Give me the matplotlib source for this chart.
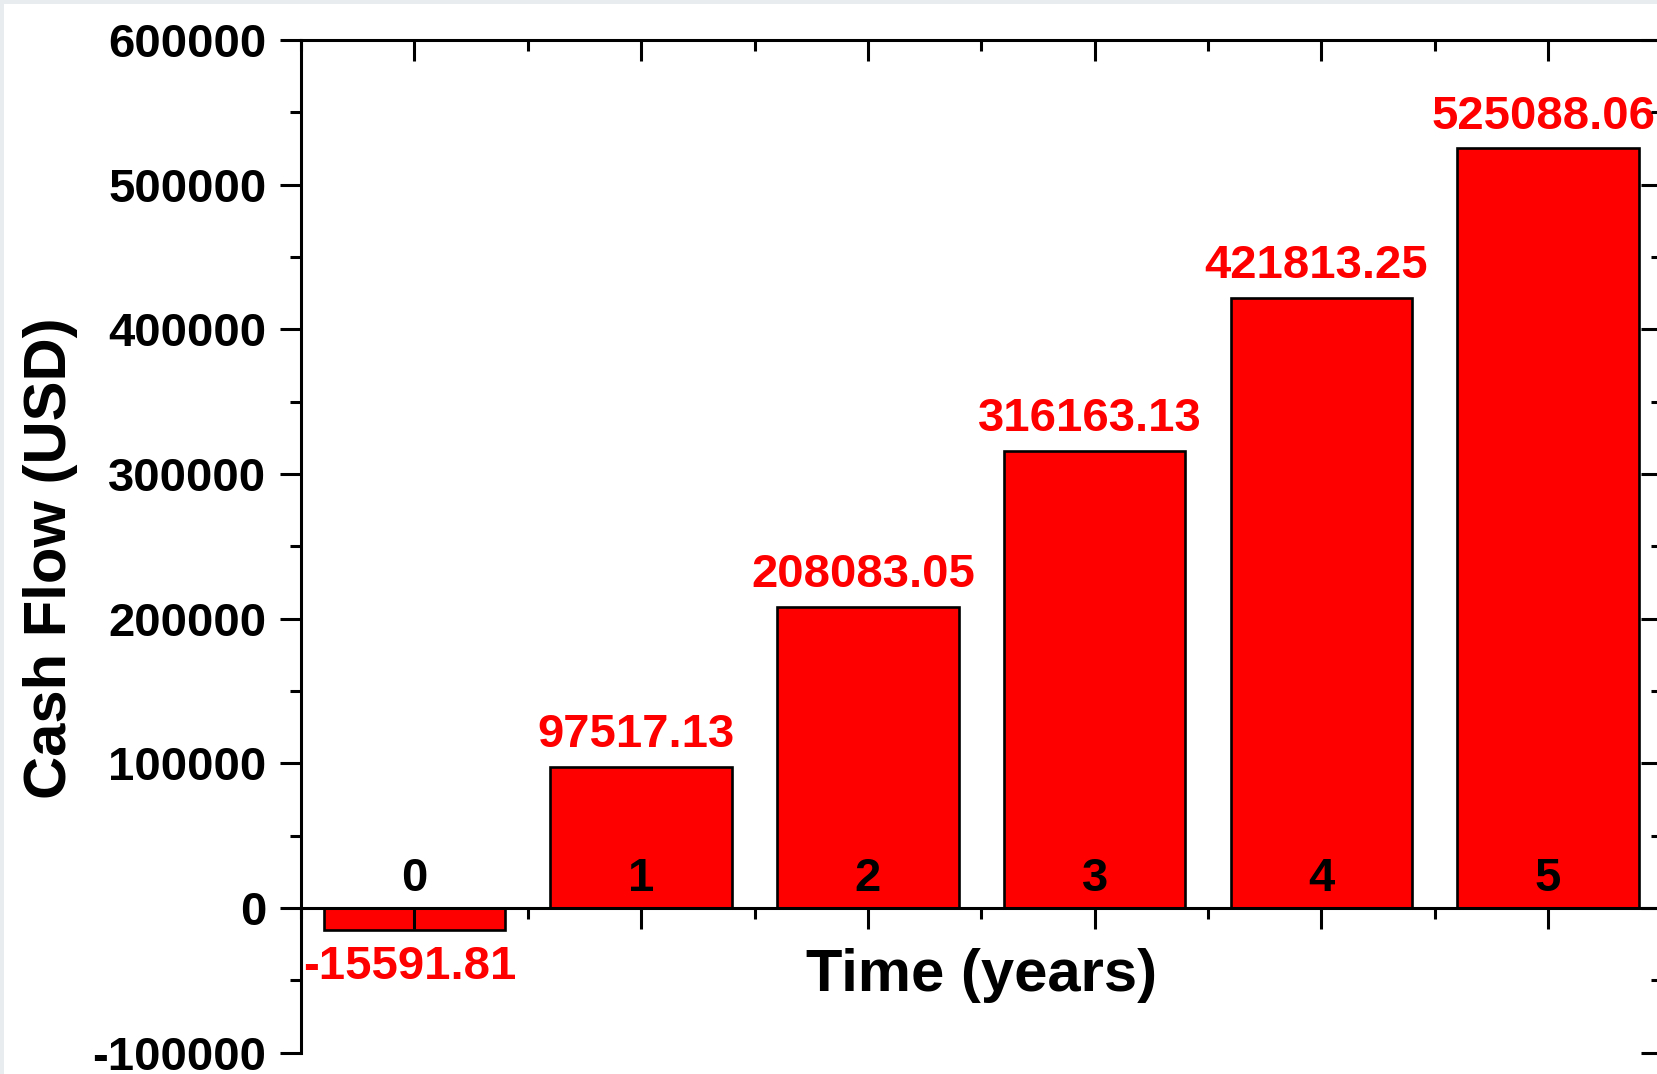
import matplotlib
matplotlib.use("Agg")
import matplotlib.pyplot as plt
from matplotlib.ticker import MultipleLocator, FixedLocator
from matplotlib.patches import Rectangle

# ---- data ----
years = [0, 1, 2, 3, 4, 5]
year_labels = ["0", "1", "2", "3", "4", "5"]
cash_flow = [-15591.81, 97517.13, 208083.05, 316163.13, 421813.25, 525088.06]
value_labels = ["-15591.81", "97517.13", "208083.05", "316163.13", "421813.25", "525088.06"]
y_ticks = [-100000, 0, 100000, 200000, 300000, 400000, 500000, 600000]

plt.rcParams['font.family'] = ['Liberation Sans', 'DejaVu Sans']
plt.rcParams['font.weight'] = 'bold'
plt.rcParams['axes.unicode_minus'] = False

W, H = 1657, 1074
fig = plt.figure(figsize=(W / 100, H / 100), dpi=100)
fig.patch.set_facecolor('#e9ecef')
fig.patches.append(Rectangle((4 / W, 0), 1, 1 - 4 / H, transform=fig.transFigure,
                             facecolor='white', edgecolor='none', zorder=-10))

ax = fig.add_axes([301 / W, 21.4 / H, 1360.5 / W, 1012.6 / H])
ax.set_facecolor('white')

ax.bar(years, cash_flow, width=0.8, color='#ff0000', edgecolor='black', linewidth=1.9, zorder=1)

ax.set_xlim(-0.5, 5.5)
ax.set_ylim(-100000, 600000)

lw = 2.2
for s in ax.spines.values():
    s.set_linewidth(lw)
ax.spines['bottom'].set_position(('data', 0))

# y axis (left: outward ticks)
ax.yaxis.set_major_locator(FixedLocator(y_ticks))
ax.yaxis.set_minor_locator(MultipleLocator(50000))
ax.tick_params(axis='y', which='major', direction='out', length=15, width=lw,
               labelsize=34, pad=10, left=True, right=False)
ax.tick_params(axis='y', which='minor', direction='out', length=8, width=lw,
               left=True, right=False)

# right side inward ticks
axr = ax.twinx()
axr.set_ylim(ax.get_ylim())
axr.yaxis.set_major_locator(FixedLocator(y_ticks))
axr.yaxis.set_minor_locator(MultipleLocator(50000))
axr.tick_params(axis='y', which='major', direction='in', length=15, width=lw, labelright=False)
axr.tick_params(axis='y', which='minor', direction='in', length=8, width=lw)
for s in axr.spines.values():
    s.set_visible(False)
axr.set_xticks([])

# x axis (at y=0, outward ticks)
ax.set_xticks(years)
ax.set_xticklabels([])
ax.xaxis.set_minor_locator(MultipleLocator(0.5))
ax.tick_params(axis='x', which='major', direction='out', length=15, width=lw)
ax.tick_params(axis='x', which='minor', direction='out', length=8, width=lw)

# top inward ticks
axt = ax.twiny()
axt.set_xlim(ax.get_xlim())
axt.set_xticks(years)
axt.xaxis.set_minor_locator(MultipleLocator(0.5))
axt.tick_params(axis='x', which='major', direction='in', length=15, width=lw, labeltop=False)
axt.tick_params(axis='x', which='minor', direction='in', length=8, width=lw)
for s in axt.spines.values():
    s.set_visible(False)

for tl in ax.get_yticklabels():
    tl.set_fontweight('bold')

# x tick labels drawn above the zero line
for x, lab in zip(years, year_labels):
    ax.annotate(lab, (x, 0), xytext=(0, 12), textcoords='offset points',
                ha='center', va='baseline', fontsize=34, fontweight='bold', color='black', zorder=5)

# value labels
for x, v, lab in zip(years, cash_flow, value_labels):
    dy = 14 if v >= 0 else -35
    ax.annotate(lab, (x, v), xytext=(-3.5, dy), textcoords='offset points',
                ha='center', va='baseline', fontsize=34, fontweight='bold', color='#ff0000')

ax.set_xlabel("Time (years)", fontsize=43, fontweight='bold')
ax.xaxis.label.set_verticalalignment('baseline')
ax.xaxis.set_label_coords(0.5, (1052.6 - 991) / 1012.6)

ax.set_ylabel("Cash Flow (USD)", fontsize=43, fontweight='bold')
ax.yaxis.set_label_coords((78 - 301) / 1360.5, (1052.6 - 558) / 1012.6)

fig.savefig("out.png", dpi=100, facecolor=fig.get_facecolor())
